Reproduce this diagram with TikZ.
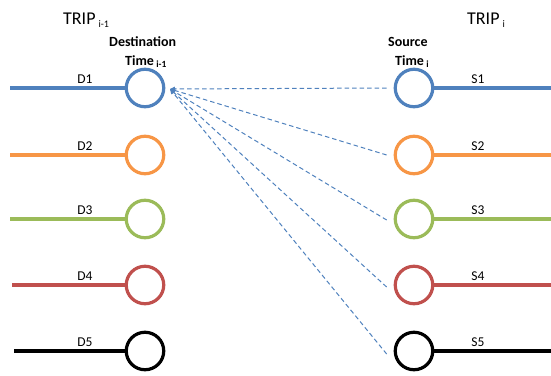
\documentclass[tikz,border=0pt]{standalone}
\usepackage{fontspec}
\setmainfont{Carlito}
\usetikzlibrary{arrows.meta}
\definecolor{cblue}{HTML}{4F81BD}
\definecolor{corange}{HTML}{F79646}
\definecolor{cgreen}{HTML}{9BBB59}
\definecolor{cred}{HTML}{C0504D}
\definecolor{cblack}{HTML}{000000}
\begin{document}
\begin{tikzpicture}[x=1pt,y=-1pt,
  ring/.style={circle,draw=#1,line width=3.2pt,minimum size=37.5pt,inner sep=0pt},
  wire/.style={draw=#1,line width=3.2pt},
  lab/.style={font=\fontsize{13.5}{15}\selectfont,inner sep=0pt},
  head/.style={font=\bfseries\fontsize{14}{16}\selectfont,inner sep=0pt},
  trip/.style={font=\fontsize{18}{20}\selectfont,inner sep=0pt,anchor=base west},
  link/.style={draw=cblue,line width=1pt,dash pattern=on 4.5pt off 3pt,-{Triangle[length=5pt,width=4.5pt]}}]
\useasboundingbox (0,0) rectangle (551,375);
\node[trip] (t1) at (63,24) {TRIP\,\raisebox{-0.35ex}{\fontsize{10}{11}\selectfont i-1}};
\node[trip] (t2) at (467,24) {TRIP\,\raisebox{-0.35ex}{\fontsize{10}{11}\selectfont i}};
\node[head,anchor=base west] (dst) at (109,46) {Destination};
\node[head,anchor=base west] (dtm) at (125,65) {Time\,\raisebox{-0.4ex}{\fontsize{9.5}{10}\selectfont i-1}};
\node[head,anchor=base west] (src) at (388,46) {Source};
\node[head,anchor=base west] (stm) at (395,65) {Time\,\raisebox{-0.4ex}{\fontsize{9.5}{10}\selectfont i}};
\foreach \i/\y/\c/\xs in {1/88/cblue/10,2/155/corange/10,3/219/cgreen/10,4/285/cred/12,5/351/cblack/14}{
  \node[ring=\c] (d\i) at (145,\y) {};
  \node[ring=\c] (s\i) at (414,\y) {};
  \coordinate (dl\i) at (\xs,\y);
  \coordinate (sr\i) at (551,\y);
  \draw[wire=\c] (dl\i) -- (d\i.west);
  \draw[wire=\c] (s\i.east) -- (sr\i);
  \node[lab] (dlab\i) at (85,\y-9) {D\i};
  \node[lab] (slab\i) at (478,\y-9) {S\i};
}
\coordinate (tip) at (170,89);
\foreach \i/\dy in {1/0,2/0,3/-1,4/-2,5/-3}{
  \coordinate (e\i) at ([xshift=-7pt,yshift=\dy pt]s\i.west);
  \draw[link] (e\i) -- (tip);
}
\end{tikzpicture}
\end{document}
